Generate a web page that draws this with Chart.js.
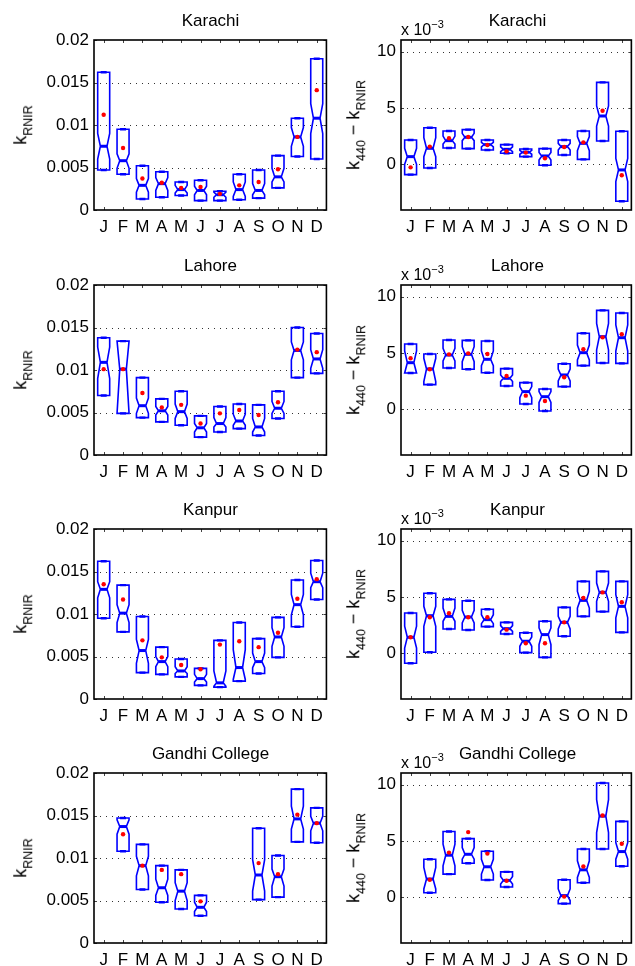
<!DOCTYPE html>
<html>
<head>
<meta charset="utf-8">
<script src="https://cdn.jsdelivr.net/npm/chart.js@4.4.1/dist/chart.umd.min.js"></script>
<style>
  html, body { margin: 0; padding: 0; background: #fff; overflow: hidden; }
  #fig { position: relative; width: 635px; height: 966px; font-family: "Liberation Sans", Arial, sans-serif; color: #000; }
  #fig canvas { position: absolute; }
  .titulo { position: absolute; transform: translate(-50%, -50%); font-size: 17px; white-space: nowrap; line-height: 1; }
  .ylab { position: absolute; transform: translate(-50%, -50%) rotate(-90deg); font-size: 18px; white-space: nowrap; line-height: 1; }
  .ylab sub { font-size: 12.5px; vertical-align: -6px; line-height: 1; }
  .expo { position: absolute; transform: translateY(-50%); font-size: 16px; white-space: nowrap; line-height: 1; }
  .expo sup { font-size: 11px; vertical-align: 7px; line-height: 1; }
</style>
</head>
<body>
<div id="fig"></div>
<script>
// ===== Datos =====
const meses = ["J", "F", "M", "A", "M", "J", "J", "A", "S", "O", "N", "D"];
const ticksK = [0, 0.005, 0.01, 0.015, 0.02];
const ticksDif = [0, 5, 10]; // en unidades de 10^-3

// cajas: [q1, muesca inferior, mediana, muesca superior, q3]
const karachiK = [
  [0.0047, 0.0060, 0.0075, 0.0090, 0.0162], [0.0042, 0.0049, 0.0058, 0.0066, 0.0095],
  [0.0013, 0.0021, 0.0029, 0.0037, 0.0052], [0.0015, 0.0023, 0.0031, 0.0038, 0.0045],
  [0.0017, 0.0020, 0.0024, 0.0029, 0.0033], [0.0011, 0.0018, 0.0023, 0.0028, 0.0035],
  [0.0011, 0.0015, 0.0018, 0.0021, 0.0022], [0.0012, 0.0016, 0.0024, 0.0033, 0.0042],
  [0.0014, 0.0018, 0.0023, 0.0031, 0.0047], [0.0026, 0.0033, 0.0039, 0.0049, 0.0064],
  [0.0063, 0.0075, 0.0086, 0.0097, 0.0108], [0.0060, 0.0090, 0.0108, 0.0125, 0.0178]
];
const karachiKMedia = [0.0112, 0.0073, 0.0037, 0.0032, 0.0026, 0.0027, 0.0019, 0.0029, 0.0033, 0.0048, 0.0086, 0.0141];

const karachiDif = [
  [-0.92, 0, 0.68, 1.42, 2.16], [-0.33, 0.68, 1.42, 2.37, 3.25],
  [1.45, 1.8, 2.1, 2.51, 2.96], [1.39, 2.1, 2.4, 2.75, 3.08],
  [1.27, 1.54, 1.75, 1.95, 2.16], [0.98, 1.12, 1.33, 1.54, 1.75],
  [0.68, 0.89, 1.07, 1.24, 1.36], [-0.09, 0.38, 0.74, 1.04, 1.39],
  [0.83, 1.27, 1.57, 1.86, 2.16], [0.44, 1.21, 1.86, 2.46, 2.96],
  [2.07, 3.4, 4.29, 5.18, 7.28], [-3.28, -1.54, -0.5, 0.53, 2.93]
];
const karachiDifMedia = [-0.27, 1.57, 2.31, 2.43, 1.72, 1.15, 1.04, 0.53, 1.54, 1.95, 4.76, -0.98];

const lahoreK = [
  [0.0070, 0.0090, 0.0109, 0.0127, 0.0138], [0.0049, 0.0049, 0.0101, 0.0134, 0.0134],
  [0.0044, 0.0049, 0.0058, 0.0067, 0.0091], [0.0039, 0.0047, 0.0052, 0.0057, 0.0066],
  [0.0035, 0.0043, 0.0051, 0.0060, 0.0075], [0.0021, 0.0027, 0.0032, 0.0037, 0.0046],
  [0.0027, 0.0033, 0.0037, 0.0044, 0.0057], [0.0031, 0.0035, 0.0040, 0.0048, 0.0060],
  [0.0023, 0.0027, 0.0033, 0.0043, 0.0059], [0.0043, 0.0049, 0.0055, 0.0063, 0.0075],
  [0.0091, 0.0112, 0.0123, 0.0133, 0.0150], [0.0096, 0.0102, 0.0113, 0.0124, 0.0143]
];
const lahoreKMedia = [0.0101, 0.0101, 0.0073, 0.0056, 0.0059, 0.0037, 0.0049, 0.0053, 0.0047, 0.0062, 0.0124, 0.0121];

const lahoreDif = [
  [3.22, 3.22, 4.14, 5.18, 5.8], [2.19, 2.46, 3.58, 4.53, 4.91],
  [3.67, 4.29, 4.82, 5.41, 6.15], [3.55, 4.23, 4.88, 5.56, 6.12],
  [3.25, 3.88, 4.44, 5.18, 6.07], [2.07, 2.46, 2.75, 3.05, 3.61],
  [0.47, 1.04, 1.57, 2.01, 2.37], [-0.15, 0.62, 1.12, 1.57, 1.8],
  [2.01, 2.51, 3.05, 3.58, 4.05], [3.88, 4.38, 5.03, 5.71, 6.75],
  [4.11, 5.27, 6.45, 7.63, 8.79], [4.08, 5.18, 6.36, 7.49, 8.55]
];
const lahoreDifMedia = [4.53, 3.55, 4.88, 4.97, 4.91, 2.96, 1.21, 0.74, 2.84, 5.33, 6.39, 6.66];

const kanpurK = [
  [0.0095, 0.0119, 0.0129, 0.0138, 0.0162], [0.0079, 0.0090, 0.0101, 0.0111, 0.0134],
  [0.0031, 0.0042, 0.0057, 0.0070, 0.0097], [0.0029, 0.0038, 0.0044, 0.0050, 0.0061],
  [0.0026, 0.0030, 0.0033, 0.0038, 0.0047], [0.0016, 0.0020, 0.0024, 0.0029, 0.0036],
  [0.0014, 0.0015, 0.0019, 0.0033, 0.0069], [0.0021, 0.0023, 0.0037, 0.0058, 0.0090],
  [0.0030, 0.0037, 0.0044, 0.0054, 0.0071], [0.0049, 0.0062, 0.0073, 0.0084, 0.0096],
  [0.0085, 0.0099, 0.0111, 0.0123, 0.0140], [0.0117, 0.0131, 0.0138, 0.0148, 0.0163]
];
const kanpurKMedia = [0.0135, 0.0117, 0.0069, 0.0049, 0.0040, 0.0035, 0.0064, 0.0068, 0.0061, 0.0078, 0.0118, 0.0141];

const kanpurDif = [
  [-0.89, 0.47, 1.42, 2.4, 3.58], [0.09, 2.4, 3.34, 4.17, 5.33],
  [2.16, 2.84, 3.28, 4.02, 4.79], [2.07, 2.69, 3.22, 3.82, 4.67],
  [2.37, 2.63, 2.99, 3.43, 3.91], [1.72, 1.95, 2.19, 2.46, 2.75],
  [0.06, 0.62, 1.07, 1.45, 1.83], [-0.36, 0.77, 1.66, 2.25, 2.84],
  [1.51, 2.16, 2.75, 3.28, 4.08], [3.28, 4.02, 4.7, 5.5, 6.39],
  [3.7, 4.62, 5.41, 6.24, 7.28], [1.86, 3.14, 4.17, 5.21, 6.39]
];
const kanpurDifMedia = [1.42, 3.2, 3.55, 3.2, 3.2, 2.1, 0.89, 0.89, 2.75, 4.91, 5.41, 4.53];

const gandhiK = [
  null, [0.0108, 0.0128, 0.0137, 0.0145, 0.0147],
  [0.0063, 0.0079, 0.0091, 0.0102, 0.0116], [0.0048, 0.0056, 0.0065, 0.0075, 0.0091],
  [0.0040, 0.0050, 0.0061, 0.0071, 0.0086], [0.0032, 0.0037, 0.0042, 0.0048, 0.0056],
  null, null,
  [0.0051, 0.0061, 0.0080, 0.0098, 0.0135], [0.0054, 0.0067, 0.0078, 0.0087, 0.0103],
  [0.0119, 0.0134, 0.0146, 0.0161, 0.0181], [0.0118, 0.0132, 0.0141, 0.0149, 0.0159]
];
const gandhiKMedia = [null, 0.0128, 0.0091, 0.0086, 0.0081, 0.0049, null, null, 0.0094, 0.0081, 0.0151, 0.0141];

const gandhiDif = [
  null, [0.41, 0.74, 1.62, 2.65, 3.38],
  [2.06, 2.79, 3.74, 4.71, 5.85], [3.03, 3.38, 3.82, 4.41, 5.21],
  [1.53, 2.06, 2.71, 3.38, 4.09], [0.91, 1.18, 1.5, 1.85, 2.26],
  null, null,
  [-0.56, -0.29, 0.15, 0.74, 1.56], [1.29, 1.76, 2.44, 3.24, 4.29],
  [4.29, 5.74, 7.21, 8.68, 10.15], [2.76, 3.38, 4.06, 4.85, 6.74]
];
const gandhiDifMedia = [null, 1.56, 3.97, 5.79, 3.88, 1.47, null, null, 0.06, 2.74, 7.26, 4.76];

// ===== Paneles =====
const paneles = [
  { titulo: "Karachi", fila: 0, col: 0, cajas: karachiK, medias: karachiKMedia },
  { titulo: "Karachi", fila: 0, col: 1, cajas: karachiDif, medias: karachiDifMedia },
  { titulo: "Lahore", fila: 1, col: 0, cajas: lahoreK, medias: lahoreKMedia },
  { titulo: "Lahore", fila: 1, col: 1, cajas: lahoreDif, medias: lahoreDifMedia },
  { titulo: "Kanpur", fila: 2, col: 0, cajas: kanpurK, medias: kanpurKMedia },
  { titulo: "Kanpur", fila: 2, col: 1, cajas: kanpurDif, medias: kanpurDifMedia },
  { titulo: "Gandhi College", fila: 3, col: 0, cajas: gandhiK, medias: gandhiKMedia },
  { titulo: "Gandhi College", fila: 3, col: 1, cajas: gandhiDif, medias: gandhiDifMedia }
];

// geometría de los ejes (px)
const filasTop = [40, 285, 529, 773];
const altoEje = 170;
const margenSup = 36, margenInf = 28;
const columnas = [
  { izq: 94, der: 327, canvasIzq: 0, canvasAncho: 330, min: 0, max: 0.02, ticks: ticksK },
  { izq: 401, der: 634, canvasIzq: 330, canvasAncho: 305, min: -4.06, max: 11.04, ticks: ticksDif }
];
const fuente = "'Liberation Sans', Arial, sans-serif";

// ===== Plugin: rejilla punteada, cajas con muesca, marco =====
const pluginCajas = {
  id: "cajas",
  beforeDatasetsDraw(chart, args, opts) {
    const { ctx, chartArea: a, scales: { x, y } } = chart;
    ctx.save();
    ctx.strokeStyle = "#333";
    ctx.lineWidth = 1;
    ctx.setLineDash([1, 5]);
    y.ticks.forEach(t => {
      const py = Math.round(y.getPixelForValue(t.value)) + 0.5;
      if (py <= a.top + 2 || py >= a.bottom - 2) return;
      ctx.beginPath();
      ctx.moveTo(a.left, py);
      ctx.lineTo(a.right, py);
      ctx.stroke();
    });
    ctx.setLineDash([]);

    ctx.strokeStyle = "#0000ff";
    ctx.lineJoin = "miter";
    opts.cajas.forEach((c, i) => {
      if (!c) return;
      const [q1, nInf, med, nSup, q3] = c;
      const Y = v => y.getPixelForValue(v);
      const xm = x.getPixelForValue(i);
      const hw = (x.getPixelForValue(i + 0.31) - x.getPixelForValue(i - 0.31)) / 2;
      const nw = hw * 0.55;
      const yInf = Y(Math.max(nInf, q1)), ySup = Y(Math.min(nSup, q3));
      ctx.lineWidth = 1.6;
      ctx.beginPath();
      ctx.moveTo(xm - hw, Y(q1));
      ctx.lineTo(xm + hw, Y(q1));
      ctx.lineTo(xm + hw, yInf);
      ctx.lineTo(xm + nw, Y(med));
      ctx.lineTo(xm + hw, ySup);
      ctx.lineTo(xm + hw, Y(q3));
      ctx.lineTo(xm - hw, Y(q3));
      ctx.lineTo(xm - hw, ySup);
      ctx.lineTo(xm - nw, Y(med));
      ctx.lineTo(xm - hw, yInf);
      ctx.closePath();
      ctx.stroke();
      // mediana y extremos
      ctx.lineWidth = 3;
      ctx.beginPath();
      ctx.moveTo(xm - nw, Y(med));
      ctx.lineTo(xm + nw, Y(med));
      ctx.stroke();
      ctx.lineWidth = 2.4;
      ctx.beginPath();
      ctx.moveTo(xm - hw / 2, Y(q1));
      ctx.lineTo(xm + hw / 2, Y(q1));
      ctx.moveTo(xm - hw / 2, Y(q3));
      ctx.lineTo(xm + hw / 2, Y(q3));
      ctx.stroke();
    });
    ctx.restore();
  },
  afterDatasetsDraw(chart) {
    const { ctx, chartArea: a, scales: { x, y } } = chart;
    ctx.save();
    ctx.strokeStyle = "#444";
    ctx.lineWidth = 1;
    ctx.beginPath();
    x.ticks.forEach((t, i) => {
      const px = Math.round(x.getPixelForTick(i)) + 0.5;
      ctx.moveTo(px, a.bottom); ctx.lineTo(px, a.bottom - 3);
      ctx.moveTo(px, a.top); ctx.lineTo(px, a.top + 3);
    });
    y.ticks.forEach(t => {
      const py = Math.round(y.getPixelForValue(t.value)) + 0.5;
      ctx.moveTo(a.left, py); ctx.lineTo(a.left + 3, py);
      ctx.moveTo(a.right, py); ctx.lineTo(a.right - 3, py);
    });
    ctx.stroke();
    ctx.strokeStyle = "#000";
    ctx.lineWidth = 1.6;
    ctx.strokeRect(a.left, a.top, a.right - a.left, a.bottom - a.top);
    ctx.restore();
  }
};

// ===== Construcción =====
const fig = document.getElementById("fig");

function crearPanel(p) {
  const col = columnas[p.col];
  const top = filasTop[p.fila];
  const canvas = document.createElement("canvas");
  canvas.width = col.canvasAncho;
  canvas.height = margenSup + altoEje + margenInf;
  canvas.style.left = col.canvasIzq + "px";
  canvas.style.top = (top - margenSup) + "px";
  fig.appendChild(canvas);

  new Chart(canvas, {
    type: "line",
    data: {
      labels: meses,
      datasets: [{
        data: p.medias,
        showLine: false,
        pointRadius: 2.2,
        pointHoverRadius: 2.2,
        pointBorderWidth: 0,
        pointBackgroundColor: "#ff0000"
      }]
    },
    options: {
      responsive: false,
      animation: false,
      events: [],
      devicePixelRatio: 1,
      layout: { padding: { top: margenSup, right: col.canvasAncho - (col.der - col.canvasIzq), left: 0, bottom: 0 } },
      plugins: { legend: { display: false }, tooltip: { enabled: false }, cajas: { cajas: p.cajas } },
      scales: {
        x: {
          type: "category",
          offset: true,
          grid: { display: false, drawTicks: false },
          border: { display: false },
          ticks: { color: "#000", font: { size: 17, family: fuente }, padding: 7, maxRotation: 0, autoSkip: false },
          afterFit: s => { s.height = margenInf; }
        },
        y: {
          type: "linear",
          min: col.min,
          max: col.max,
          grid: { display: false, drawTicks: false },
          border: { display: false },
          ticks: { color: "#000", font: { size: 17, family: fuente }, padding: 5, callback: v => String(v) },
          afterBuildTicks: s => { s.ticks = col.ticks.map(v => ({ value: v })); },
          afterFit: s => { s.width = col.izq - col.canvasIzq; }
        }
      }
    },
    plugins: [pluginCajas]
  });

  // título
  const t = document.createElement("div");
  t.className = "titulo";
  t.textContent = p.titulo;
  t.style.left = ((col.izq + col.der) / 2) + "px";
  t.style.top = (top - 20) + "px";
  fig.appendChild(t);

  // etiqueta del eje y
  const yl = document.createElement("div");
  yl.className = "ylab";
  yl.innerHTML = p.col === 0 ? "k<sub>RNIR</sub>" : "k<sub>440</sub> \u2212 k<sub>RNIR</sub>";
  yl.style.left = (p.col === 0 ? 23 : 356) + "px";
  yl.style.top = (top + altoEje / 2) + "px";
  fig.appendChild(yl);

  // factor de escala
  if (p.col === 1) {
    const e = document.createElement("div");
    e.className = "expo";
    e.innerHTML = "x 10<sup>\u22123</sup>";
    e.style.left = col.izq + "px";
    e.style.top = (top - 12) + "px";
    fig.appendChild(e);
  }
}

paneles.forEach(crearPanel);
</script>
</body>
</html>
